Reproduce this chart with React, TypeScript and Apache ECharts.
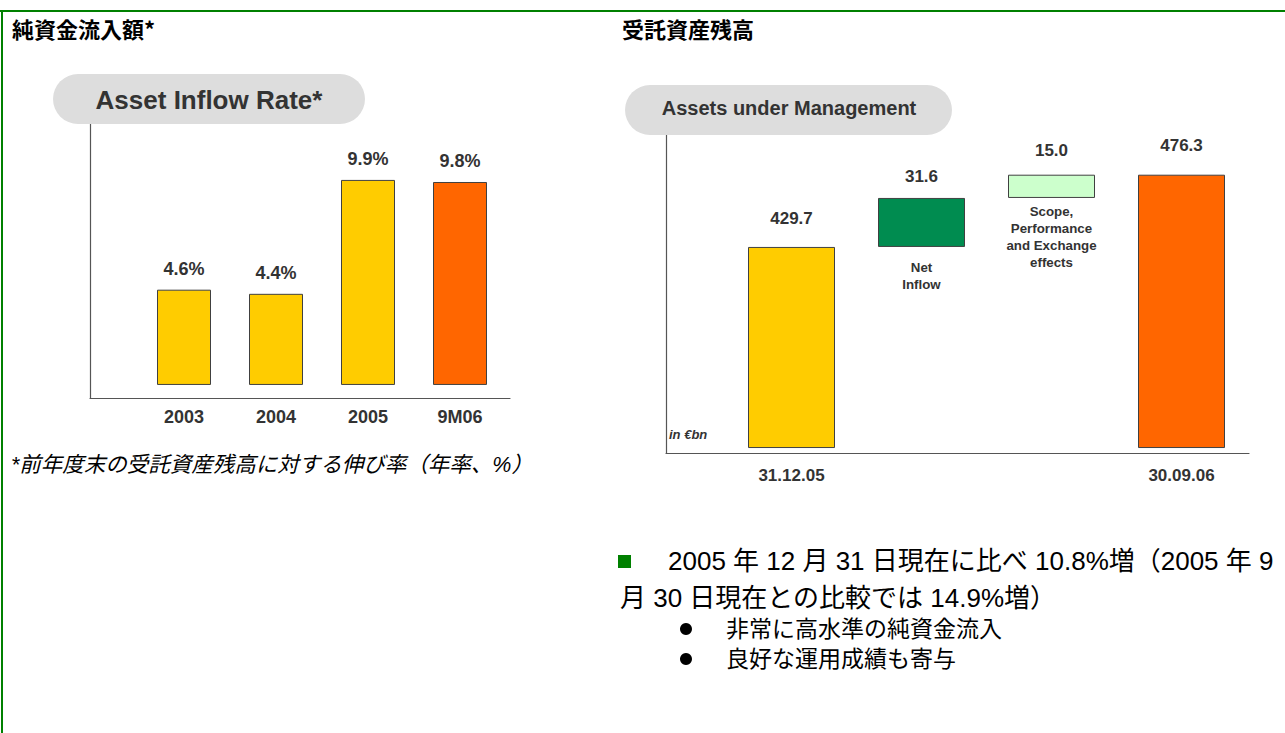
import React, { useEffect, useRef } from 'react';
import * as echarts from 'echarts';

// ---- Data ----
const inflowCategories = ['2003', '2004', '2005', '9M06'];
const inflowRates = [4.6, 4.4, 9.9, 9.8];
const inflowColors = ['#FFCC00', '#FFCC00', '#FFCC00', '#FF6600'];

const aumCategories = ['31.12.05', 'Net\nInflow', 'Scope,\nPerformance\nand Exchange\neffects', '30.09.06'];
const aumValues = [429.7, 31.6, 15.0, 476.3];
const aumKinds = ['total', 'delta', 'delta', 'total'];
const aumColors = ['#FFCC00', '#008C50', '#CCFFCC', '#FF6600'];
const aumAxisBreak = 300;

// label gaps (styling only)
const aumTopGap = [20, 13, 16, 21];
const aumBelowGap = [0, 12, 5, 0];

const leftTitle = '純資金流入額*';
const rightTitle = '受託資産残高';
const leftPill = 'Asset Inflow Rate*';
const rightPill = 'Assets under Management';
const unitNote = 'in €bn';
const footnote = '*前年度末の受託資産残高に対する伸び率（年率、%）';
const bodyLine1 = '2005 年 12 月 31 日現在に比べ 10.8%増（2005 年 9';
const bodyLine2 = '月 30 日現在との比較では 14.9%増）';
const bullets = ['非常に高水準の純資金流入', '良好な運用成績も寄与'];

const LAT = "'Liberation Sans', Arial, 'Noto Sans CJK JP', sans-serif";
const JP = "'Noto Sans CJK JP', 'Liberation Sans', sans-serif";
const TXT = '#333333';
const AXIS = '#555555';
const BORDER = '#404040';

// waterfall decomposition
const aumBase: number[] = [];
const aumVisible: number[] = [];
{
  let running = 0;
  aumValues.forEach((v, i) => {
    if (aumKinds[i] === 'total') {
      aumBase.push(aumAxisBreak);
      aumVisible.push(+(v - aumAxisBreak).toFixed(1));
      running = v;
    } else {
      aumBase.push(running);
      aumVisible.push(v);
      running += v;
    }
  });
}

function frameAxes(gridIndex: number) {
  const line = { show: true, onZero: false, lineStyle: { color: AXIS, width: 1.2 } };
  return {
    x: { gridIndex, type: 'value', min: 0, max: 1, axisLine: line, axisTick: { show: false }, axisLabel: { show: false }, splitLine: { show: false } },
    y: { gridIndex, type: 'value', min: 0, max: 1, axisLine: line, axisTick: { show: false }, axisLabel: { show: false }, splitLine: { show: false } },
  };
}

export default function App() {
  const ref = useRef<HTMLDivElement>(null);
  useEffect(() => {
    if (!ref.current) return;
    const chart = echarts.init(ref.current, undefined, { renderer: 'svg' });
    const f0 = frameAxes(0);
    const f2 = frameAxes(2);
    const option: any = {
      animation: false,
      backgroundColor: '#ffffff',
      grid: [
        { left: 90, top: 124, width: 420, height: 274 },
        { left: 138, top: 124, width: 368, height: 274 },
        { left: 666, top: 135, width: 583, height: 318 },
        { left: 726.5, top: 135, width: 520, height: 318 },
      ],
      xAxis: [
        f0.x,
        {
          gridIndex: 1, type: 'category', data: inflowCategories,
          axisLine: { show: false }, axisTick: { show: false },
          axisLabel: { fontFamily: LAT, fontWeight: 'bold', fontSize: 18, color: TXT, margin: 10 },
        },
        f2.x,
        {
          gridIndex: 3, type: 'category', data: aumCategories,
          axisLine: { show: false }, axisTick: { show: false },
          axisLabel: {
            fontFamily: LAT, fontWeight: 'bold', fontSize: 17, color: TXT, margin: 14,
            formatter: (v: string, i: number) => (aumKinds[i] === 'total' ? v : ''),
          },
        },
      ],
      yAxis: [
        f0.y,
        { gridIndex: 1, type: 'value', min: -0.63, max: 12.6, show: false },
        f2.y,
        { gridIndex: 3, type: 'value', min: 296.8, max: 501.9, show: false },
      ],
      series: [
        {
          type: 'bar', xAxisIndex: 1, yAxisIndex: 1, barWidth: 54,
          data: inflowRates.map((v, i) => ({ value: v, itemStyle: { color: inflowColors[i] } })),
          itemStyle: { borderColor: BORDER, borderWidth: 1 },
          label: {
            show: true, position: 'top', distance: 12,
            fontFamily: LAT, fontWeight: 'bold', fontSize: 18, color: TXT,
            formatter: (p: any) => inflowRates[p.dataIndex].toFixed(1) + '%',
          },
        },
        {
          type: 'bar', xAxisIndex: 3, yAxisIndex: 3, stack: 'aum', barWidth: 87,
          data: aumBase.map((v, i) => ({ value: v, label: { distance: aumBelowGap[i] } })),
          itemStyle: { color: 'rgba(0,0,0,0)' },
          emphasis: { disabled: true },
          label: {
            show: true, position: 'insideTop',
            fontFamily: LAT, fontWeight: 'bold', fontSize: 13.3, lineHeight: 17, color: TXT, align: 'center',
            formatter: (p: any) => (aumKinds[p.dataIndex] === 'delta' ? aumCategories[p.dataIndex] : ''),
          },
        },
        {
          type: 'bar', xAxisIndex: 3, yAxisIndex: 3, stack: 'aum', barWidth: 87,
          data: aumVisible.map((v, i) => ({ value: v, itemStyle: { color: aumColors[i] }, label: { distance: aumTopGap[i] } })),
          itemStyle: { borderColor: BORDER, borderWidth: 1 },
          label: {
            show: true, position: 'top',
            fontFamily: LAT, fontWeight: 'bold', fontSize: 17, color: TXT,
            formatter: (p: any) => aumValues[p.dataIndex].toFixed(1),
          },
        },
      ],
      graphic: [
        { type: 'line', z: 100, shape: { x1: 0, y1: 11, x2: 1285, y2: 11 }, style: { stroke: '#008000', lineWidth: 2 } },
        { type: 'line', z: 100, shape: { x1: 2, y1: 10, x2: 2, y2: 733 }, style: { stroke: '#008000', lineWidth: 2 } },
        { type: 'text', z: 100, x: 12, y: 28, style: { text: leftTitle, font: `bold 22px ${JP}`, fill: '#000', verticalAlign: 'middle' } },
        { type: 'text', z: 100, x: 622, y: 28, style: { text: rightTitle, font: `bold 22px ${JP}`, fill: '#000', verticalAlign: 'middle' } },
        { type: 'rect', z: 100, shape: { x: 53, y: 74, width: 312, height: 50, r: 25 }, style: { fill: '#DDDDDD' } },
        { type: 'text', z: 101, x: 209, y: 100, style: { text: leftPill, font: `bold 26px ${LAT}`, fill: TXT, align: 'center', verticalAlign: 'middle' } },
        { type: 'rect', z: 100, shape: { x: 625, y: 85, width: 327, height: 50, r: 25 }, style: { fill: '#DDDDDD' } },
        { type: 'text', z: 101, x: 789, y: 108, style: { text: rightPill, font: `bold 20px ${LAT}`, fill: TXT, align: 'center', verticalAlign: 'middle' } },
        { type: 'text', z: 100, x: 669, y: 434, style: { text: unitNote, font: `italic bold 13px ${LAT}`, fill: TXT, verticalAlign: 'middle' } },
        { type: 'text', z: 100, x: 11, y: 465, style: { text: footnote, font: `italic 21.5px ${LAT}`, fill: '#000', verticalAlign: 'middle' } },
        { type: 'rect', z: 100, shape: { x: 618, y: 555, width: 13, height: 13 }, style: { fill: '#008000' } },
        { type: 'text', z: 100, x: 668, y: 561, style: { text: bodyLine1, font: `26px ${LAT}`, fill: '#000', verticalAlign: 'middle' } },
        { type: 'text', z: 100, x: 620, y: 598, style: { text: bodyLine2, font: `26px ${LAT}`, fill: '#000', verticalAlign: 'middle' } },
        ...bullets.flatMap((b, i) => [
          { type: 'circle', z: 100, shape: { cx: 686, cy: 629 + i * 30, r: 6 }, style: { fill: '#000' } },
          { type: 'text', z: 100, x: 726, y: 629 + i * 30, style: { text: b, font: `23px ${LAT}`, fill: '#000', verticalAlign: 'middle' } },
        ]),
      ],
    };
    chart.setOption(option);
    return () => chart.dispose();
  }, []);
  return <div ref={ref} style={{ position: 'fixed', left: 0, top: 0, width: 1285, height: 733 }} />;
}
